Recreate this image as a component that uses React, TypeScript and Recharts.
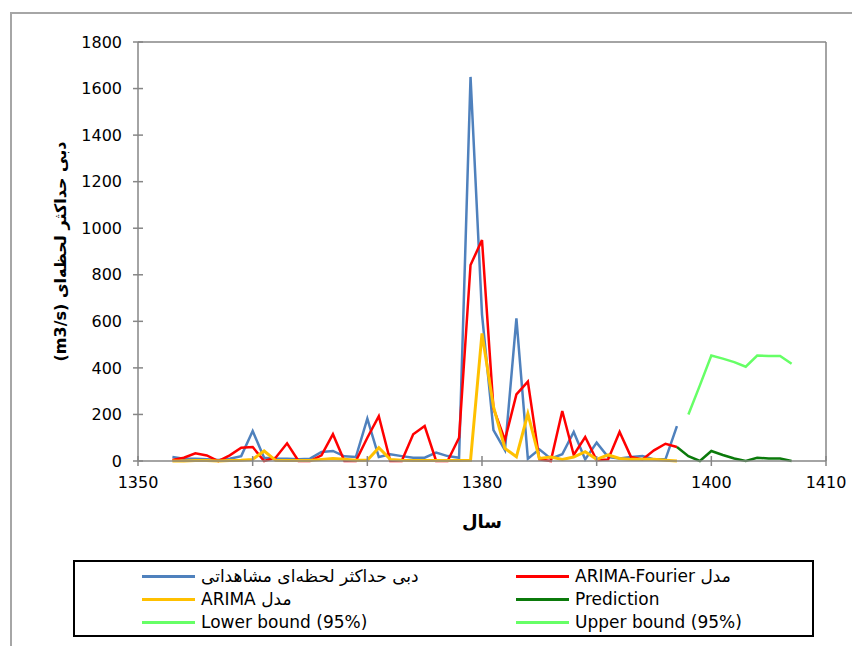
import React from 'react';
import { LineChart, Line, XAxis, YAxis, Legend, ReferenceLine } from 'recharts';

const histYears = [
  1353, 1354, 1355, 1356, 1357, 1358, 1359, 1360, 1361, 1362, 1363, 1364, 1365, 1366, 1367,
  1368, 1369, 1370, 1371, 1372, 1373, 1374, 1375, 1376, 1377, 1378, 1379, 1380, 1381, 1382,
  1383, 1384, 1385, 1386, 1387, 1388, 1389, 1390, 1391, 1392, 1393, 1394, 1395, 1396, 1397,
];

const observed = [
  17, 10, 10, 7, 4, 10, 21, 129, 14, 10, 10, 7, 10, 39, 43,
  20, 17, 182, 17, 29, 21, 14, 14, 36, 21, 14, 1650, 630, 133, 47,
  613, 10, 50, 10, 29, 125, 7, 79, 17, 11, 17, 21, 7, 7, 150,
];

const arimaFourier = [
  4, 14, 33, 24, 0, 24, 57, 60, 0, 14, 76, 0, 0, 24, 115,
  0, 0, 100, 193, 0, 0, 115, 150, 0, 0, 100, 842, 949, 226, 90,
  286, 341, 7, 0, 215, 26, 103, 3, 7, 125, 17, 7, 46, 74, 60,
];

const arima = [
  0, 0, 2, 2, 0, 2, 3, 7, 43, 3, 2, 2, 2, 7, 11,
  8, 3, 3, 57, 7, 3, 2, 2, 2, 2, 2, 3, 548, 233, 54,
  18, 203, 11, 17, 7, 17, 40, 7, 26, 11, 7, 7, 7, 3, 0,
];

const forecastYears = [1397, 1398, 1399, 1400, 1401, 1402, 1403, 1404, 1405, 1406, 1407];
const prediction = [60, 21, 0, 43, 26, 11, 0, 14, 11, 11, 0];
// lower bound sits below the axis minimum, nothing of it shows in the picture
const lowerBound = [null, null, null, null, null, null, null, null, null, null, null];
const upperBound = [null, 200, 325, 453, 440, 425, 405, 453, 451, 451, 418];

const seriesNames = [
  'دبی حداکثر لحظه‌ای مشاهداتی',
  'مدل ARIMA-Fourier',
  'مدل ARIMA',
  'Prediction',
  'Lower bound (95%)',
  'Upper bound (95%)',
];

const xTicks = [1350, 1360, 1370, 1380, 1390, 1400, 1410];
const yTicks = [0, 200, 400, 600, 800, 1000, 1200, 1400, 1600, 1800];

const FONT = '"DejaVu Sans", "Noto Sans", sans-serif';
const AXIS = '#868686';

type Row = { year: number; [k: string]: number | null };

function buildRows(): Row[] {
  const byYear = new Map<number, Row>();
  const get = (y: number) => {
    if (!byYear.has(y)) byYear.set(y, { year: y });
    return byYear.get(y)!;
  };
  histYears.forEach((y, i) => {
    const r = get(y);
    r.observed = observed[i];
    r.arimaFourier = arimaFourier[i];
    r.arima = arima[i];
  });
  forecastYears.forEach((y, i) => {
    const r = get(y);
    r.prediction = prediction[i];
    r.lower = lowerBound[i];
    r.upper = upperBound[i];
  });
  return [...byYear.values()].sort((a, b) => a.year - b.year);
}

const rows = buildRows();

// eslint-disable-next-line @typescript-eslint/no-explicit-any
const renderLegend = (props: any) => {
  // keep the series order (excel fills the legend row by row)
  const items = [...(props.payload || [])].sort(
    // eslint-disable-next-line @typescript-eslint/no-explicit-any
    (a: any, b: any) => seriesNames.indexOf(a.value) - seriesNames.indexOf(b.value)
  );
  return (
    <div
      style={{
        position: 'relative',
        width: 741,
        height: 77,
        border: '2px solid #000',
        boxSizing: 'border-box',
        fontFamily: FONT,
        fontSize: 17,
        color: '#000',
      }}
    >
      {/* eslint-disable-next-line @typescript-eslint/no-explicit-any */}
      {items.map((item: any, i: number) => {
        const col = i % 2;
        const row = Math.floor(i / 2);
        return (
          <div
            key={`leg-${i}`}
            style={{
              position: 'absolute',
              left: col === 0 ? 67 : 441,
              top: 14 + row * 23 - 11,
              height: 22,
              display: 'flex',
              alignItems: 'center',
              whiteSpace: 'nowrap',
            }}
          >
            <span style={{ display: 'inline-block', width: 53, height: 3, background: item.color }} />
            <span style={{ marginLeft: 6, unicodeBidi: 'plaintext', display: 'inline-block' }}>{item.value}</span>
          </div>
        );
      })}
    </div>
  );
};

// eslint-disable-next-line @typescript-eslint/no-explicit-any
const YTitle = (props: any) => {
  const vb = props.viewBox || { x: 0, y: 42, width: 138, height: 419 };
  const cy = vb.y + vb.height / 2;
  return (
    <text
      x={60}
      y={cy}
      transform={`rotate(-90 60 ${cy})`}
      textAnchor="middle"
      dominantBaseline="central"
      direction="rtl"
      fontFamily={FONT}
      fontWeight="bold"
      fontSize={16}
      fill="#000"
    >
      دبی حداکثر لحظه‌ای (m3/s)
    </text>
  );
};

// eslint-disable-next-line @typescript-eslint/no-explicit-any
const XTitle = (props: any) => {
  const vb = props.viewBox || { x: 138, y: 461, width: 688, height: 30 };
  return (
    <text
      x={vb.x + vb.width / 2}
      y={521}
      textAnchor="middle"
      dominantBaseline="central"
      fontFamily={FONT}
      fontWeight="bold"
      fontSize={18}
      fill="#000"
    >
      سال
    </text>
  );
};

export default function App() {
  return (
    <div style={{ margin: -8, width: 860, height: 654, position: 'relative', overflow: 'hidden', background: '#fff' }}>
      <div
        style={{
          position: 'absolute',
          left: 10,
          top: 12,
          width: 900,
          height: 700,
          borderTop: '2px solid #a6a6a6',
          borderLeft: '2px solid #a6a6a6',
        }}
      />
      <div style={{ position: 'absolute', left: 0, top: 0 }}>
        <LineChart width={860} height={654} data={rows} margin={{ top: 42, right: 34, bottom: 163, left: 0 }}>
          <XAxis
            dataKey="year"
            type="number"
            domain={[1350, 1410]}
            ticks={xTicks}
            interval={0}
            height={30}
            stroke={AXIS}
            strokeWidth={1.5}
            tickSize={10}
            tickMargin={6}
            tickLine={{ stroke: AXIS, strokeWidth: 1.5, transform: 'translate(0,-5)' }}
            tick={{ fill: '#000', fontSize: 16, fontFamily: FONT }}
            label={<XTitle />}
          />
          <YAxis
            type="number"
            domain={[0, 1800]}
            ticks={yTicks}
            interval={0}
            width={138}
            stroke={AXIS}
            strokeWidth={1.5}
            tickSize={10}
            tickMargin={6}
            tickLine={{ stroke: AXIS, strokeWidth: 1.5, transform: 'translate(5,0)' }}
            tick={{ fill: '#000', fontSize: 16, fontFamily: FONT }}
            label={<YTitle />}
          />
          <ReferenceLine y={1800} stroke={AXIS} strokeWidth={1.5} />
          <ReferenceLine x={1410} stroke={AXIS} strokeWidth={1.5} />
          <Line name={seriesNames[0]} dataKey="observed" stroke="#4f81bd" strokeWidth={2.5} dot={false} isAnimationActive={false} />
          <Line name={seriesNames[1]} dataKey="arimaFourier" stroke="#ff0000" strokeWidth={2.5} dot={false} isAnimationActive={false} />
          <Line name={seriesNames[2]} dataKey="arima" stroke="#ffc000" strokeWidth={3} dot={false} isAnimationActive={false} />
          <Line name={seriesNames[3]} dataKey="prediction" stroke="#0b7a0b" strokeWidth={2.5} dot={false} isAnimationActive={false} />
          <Line name={seriesNames[4]} dataKey="lower" stroke="#66ff66" strokeWidth={2.5} dot={false} isAnimationActive={false} />
          <Line name={seriesNames[5]} dataKey="upper" stroke="#66ff66" strokeWidth={2.5} dot={false} isAnimationActive={false} />
          <Legend
            layout="horizontal"
            verticalAlign="middle"
            align="center"
            content={renderLegend}
            wrapperStyle={{ left: 73, top: 560, width: 741, height: 77 }}
          />
        </LineChart>
      </div>
    </div>
  );
}
